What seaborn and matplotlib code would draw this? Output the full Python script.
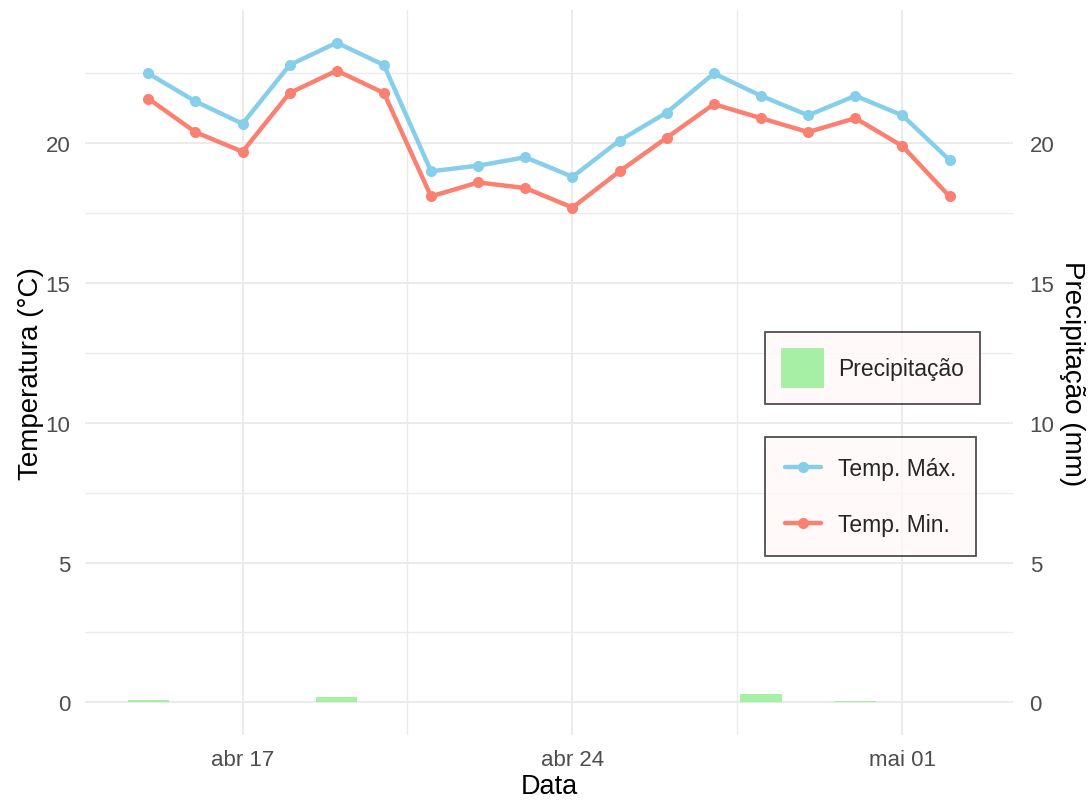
import pandas as pd
import numpy as np
import matplotlib
matplotlib.use("Agg")
import matplotlib.pyplot as plt
import matplotlib.dates as mdates
from matplotlib.lines import Line2D
from matplotlib.patches import Patch
import seaborn as sns

# Data
dates = ["2023-04-15", "2023-04-16", "2023-04-17", "2023-04-18", "2023-04-19", "2023-04-20",
         "2023-04-21", "2023-04-22", "2023-04-23", "2023-04-24", "2023-04-25", "2023-04-26",
         "2023-04-27", "2023-04-28", "2023-04-29", "2023-04-30", "2023-05-01", "2023-05-02"]
temp_max = [22.5, 21.5, 20.7, 22.8, 23.6, 22.8, 19.0, 19.2, 19.5, 18.8, 20.1, 21.1,
            22.5, 21.7, 21.0, 21.7, 21.0, 19.4]
temp_min = [21.6, 20.4, 19.7, 21.8, 22.6, 21.8, 18.1, 18.6, 18.4, 17.7, 19.0, 20.2,
            21.4, 20.9, 20.4, 20.9, 19.9, 18.1]
precip = [0.07, 0.0, 0.0, 0.0, 0.19, 0.0, 0.0, 0.0, 0.0, 0.0, 0.0, 0.0,
          0.0, 0.3, 0.0, 0.06, 0.0, 0.0]
tick_dates = ["2023-04-17", "2023-04-24", "2023-05-01"]
tick_labels = ["abr 17", "abr 24", "mai 01"]

df = pd.DataFrame({"data": pd.to_datetime(dates), "tmax": temp_max,
                   "tmin": temp_min, "precip": precip})

sns.set_theme(style="whitegrid")
plt.rcParams["font.family"] = ["Liberation Sans", "DejaVu Sans"]

fig = plt.figure(figsize=(10.88, 8.03), dpi=100)
ax = fig.add_axes([0.078, 0.083, 0.853, 0.903])

c_max = "#87CEEB"
c_min = "#FA8072"
c_pr = "#90EE90"

# precipitation bars (skip zero days so nothing shows on the baseline)
wet = df[df["precip"] > 0]
ax.bar(wet["data"], wet["precip"], width=0.87, color=c_pr, alpha=0.8,
       linewidth=0, zorder=2)

sns.lineplot(data=df, x="data", y="tmax", color=c_max, lw=3.2, marker="o",
             markersize=8, markeredgewidth=0, ax=ax, zorder=3)
sns.lineplot(data=df, x="data", y="tmin", color=c_min, lw=3.2, marker="o",
             markersize=8, markeredgewidth=0, ax=ax, zorder=3)

xmin = mdates.date2num(pd.Timestamp("2023-04-15")) - 1.345
xmax = mdates.date2num(pd.Timestamp("2023-05-02")) + 1.345
ax.set_xlim(xmin, xmax)
ax.set_ylim(-1.18, 24.76)

ticks = [mdates.date2num(pd.Timestamp(d)) for d in tick_dates]
ax.set_xticks(ticks)
ax.set_xticklabels(tick_labels)
ax.set_xticks([(ticks[0] + ticks[1]) / 2, (ticks[1] + ticks[2]) / 2], minor=True)
ax.set_yticks([0, 5, 10, 15, 20])
ax.set_yticks([2.5, 7.5, 12.5, 17.5, 22.5], minor=True)

ax.set_facecolor("white")
for s in ax.spines.values():
    s.set_visible(False)
ax.grid(which="major", color="#EBEBEB", lw=1.4)
ax.grid(which="minor", color="#EBEBEB", lw=1.0)
ax.tick_params(axis="y", which="both", length=0, labelsize=16,
               labelcolor="#4D4D4D", pad=10.5)
ax.tick_params(axis="x", which="both", length=0, labelsize=16,
               labelcolor="#4D4D4D", pad=10)

ax.set_xlabel("Data", fontsize=19.5, color="black", labelpad=2)
ax.set_ylabel("Temperatura (°C)", fontsize=20, color="black", labelpad=1)

sec = ax.secondary_yaxis("right", functions=(lambda v: v, lambda v: v))
sec.set_yticks([0, 5, 10, 15, 20])
sec.tick_params(length=0, labelsize=16, labelcolor="#4D4D4D", pad=12)
for s in sec.spines.values():
    s.set_visible(False)
sec.set_ylabel("Precipitação (mm)", fontsize=20, color="black",
               rotation=-90, labelpad=22)

# legends
h_pr = [Patch(facecolor=c_pr, edgecolor="none", alpha=0.8)]
leg1 = ax.legend(h_pr, ["Precipitação"], loc="upper left",
                 bbox_to_anchor=(0.733, 0.556), fontsize=16.5, frameon=True,
                 handlelength=1.85, handleheight=2.3, borderpad=0.7,
                 handletextpad=0.65, fancybox=False, borderaxespad=0)
leg1.get_frame().set_edgecolor("#222222")
leg1.get_frame().set_facecolor("#FFF9F8")
leg1.get_frame().set_linewidth(1.3)
ax.add_artist(leg1)

h_t = [Line2D([0], [0], color=c_max, lw=3.2, marker="o", markersize=7),
       Line2D([0], [0], color=c_min, lw=3.2, marker="o", markersize=7)]
leg2 = ax.legend(h_t, ["Temp. Máx.", "Temp. Min."], loc="upper left",
                 bbox_to_anchor=(0.733, 0.411), fontsize=16.5, frameon=True,
                 handlelength=1.6, borderpad=0.85, labelspacing=1.45,
                 handletextpad=0.75, fancybox=False, borderaxespad=0)
leg2.get_frame().set_edgecolor("#222222")
leg2.get_frame().set_facecolor("#FFF9F8")
leg2.get_frame().set_linewidth(1.3)

fig.savefig("out.png", dpi=100)
